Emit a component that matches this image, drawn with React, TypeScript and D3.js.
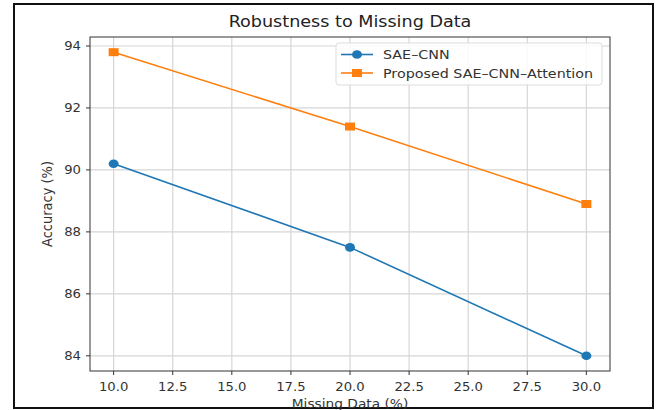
import React from 'react'
import * as d3 from 'd3'

const missing = [10, 20, 30]
const saeCnn = [90.2, 87.5, 84.0]
const proposed = [93.8, 91.4, 88.9]
const xTicks = [10, 12.5, 15, 17.5, 20, 22.5, 25, 27.5, 30]
const yTicks = [84, 86, 88, 90, 92, 94]
const seriesNames = ['SAE\u2013CNN', 'Proposed SAE\u2013CNN\u2013Attention']

const W = 663
const H = 410
const m = {left: 90, right: 610, top: 37, bottom: 371}
const font = 'DejaVu Sans, sans-serif'
// the reference is a bit wider than tall, stretch text the same way
const sx = 1.1

const T = ({x, y, size, anchor = 'start', dy = '0', color = '#333', children}: any) => (
	<g transform={`translate(${x},${y}) scale(${sx},1)`}>
		<text textAnchor={anchor} dy={dy} fontSize={size} fill={color}>{children}</text>
	</g>
)

export default function App() {
	const x = d3.scaleLinear().domain([9, 31]).range([m.left, m.right])
	const y = d3.scaleLinear().domain([83.51, 94.29]).range([m.bottom, m.top])

	const line = d3.line<number>()
		.x((d, i) => x(missing[i]))
		.y(d => y(d))

	const series = [
		{name: seriesNames[0], values: saeCnn, color: '#1f77b4', marker: 'circle'},
		{name: seriesNames[1], values: proposed, color: '#ff7f0e', marker: 'square'},
	]

	const marker = (kind: string, cx: number, cy: number, color: string, key?: any) => kind === 'circle'
		? <ellipse key={key} cx={cx} cy={cy} rx={5} ry={4.3} fill={color} />
		: <rect key={key} x={cx - 5} y={cy - 4} width={10} height={8} fill={color} />

	return (
		<svg width={W} height={H} style={{position: 'absolute', left: 0, top: 0}} fontFamily={font}>
			<rect x={0} y={0} width={W} height={H} fill="white" />
			<rect x={14} y={4} width={639} height={404} fill="none" stroke="#111" strokeWidth={2} />

			{/* grid */}
			{xTicks.map(t => (
				<line key={'gx' + t} x1={x(t)} x2={x(t)} y1={m.top} y2={m.bottom} stroke="#d6d6d6" strokeWidth={1.2} />
			))}
			{yTicks.map(t => (
				<line key={'gy' + t} x1={m.left} x2={m.right} y1={y(t)} y2={y(t)} stroke="#d6d6d6" strokeWidth={1.2} />
			))}

			{/* lines + markers */}
			{series.map(s => (
				<g key={s.name}>
					<path d={line(s.values) || ''} fill="none" stroke={s.color} strokeWidth={1.6} />
					{s.values.map((v, i) => marker(s.marker, x(missing[i]), y(v), s.color, i))}
				</g>
			))}

			{/* spines */}
			<rect x={m.left} y={m.top} width={m.right - m.left} height={m.bottom - m.top} fill="none" stroke="#333" strokeWidth={1} />

			{/* x axis */}
			{xTicks.map(t => (
				<g key={'xt' + t}>
					<line x1={x(t)} x2={x(t)} y1={m.bottom} y2={m.bottom + 4} stroke="#333" />
					<T x={x(t)} y={m.bottom + 20} size={12} anchor="middle">{t.toFixed(1)}</T>
				</g>
			))}
			{/* y axis */}
			{yTicks.map(t => (
				<g key={'yt' + t}>
					<line x1={m.left} x2={m.left - 4} y1={y(t)} y2={y(t)} stroke="#333" />
					<T x={m.left - 9} y={y(t)} size={12} anchor="end" dy="0.35em">{t}</T>
				</g>
			))}

			<T x={(m.left + m.right) / 2} y={408} size={12.5} anchor="middle">Missing Data (%)</T>
			<g transform={`translate(47,${(m.top + m.bottom) / 2}) rotate(-90) scale(1,${sx})`}>
				<text dy="0.35em" textAnchor="middle" fontSize={13} fill="#333">Accuracy (%)</text>
			</g>
			<T x={(m.left + m.right) / 2} y={27} size={16} anchor="middle" color="#222">Robustness to Missing Data</T>

			{/* legend */}
			<g transform="translate(336,43)">
				<rect x={0} y={0} width={266} height={42} rx={3} fill="white" fillOpacity={0.85} stroke="#dcdcdc" />
				{series.map((s, i) => (
					<g key={s.name} transform={`translate(0,${11.5 + i * 18.5})`}>
						<line x1={5} x2={37} stroke={s.color} strokeWidth={1.6} />
						{marker(s.marker, 21, 0, s.color)}
						<T x={47} y={0} size={13} dy="0.35em">{s.name}</T>
					</g>
				))}
			</g>
		</svg>
	)
}
